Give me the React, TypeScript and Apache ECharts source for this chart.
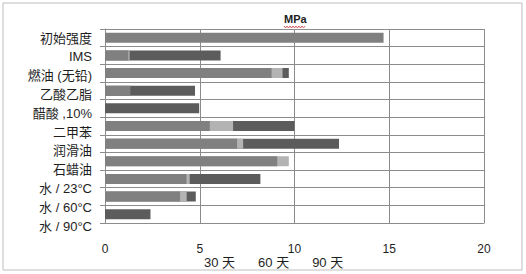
import React, { useEffect, useRef } from "react";
import * as echarts from "echarts";

// Immersion test: residual strength (MPa) after 30 / 60 / 90 days
const categories = [
  "初始强度",
  "IMS",
  "燃油 (无铅)",
  "乙酸乙脂",
  "醋酸 ,10%",
  "二甲苯",
  "润滑油",
  "石蜡油",
  "水 / 23°C",
  "水 / 60°C",
  "水 / 90°C",
];

const seriesNames = ["30 天", "60 天", "90 天"];

// Strength values per medium (null = not measured)
const days30 = [14.7, 1.23, 8.79, 1.34, null, 5.53, 6.97, 9.09, 4.3, 3.96, null];
const days60 = [null, 1.3, 9.37, null, null, 6.76, 7.29, 9.7, 4.47, 4.31, null];
const days90 = [null, 6.1, 9.7, 4.75, 4.97, 10.0, 12.35, null, 8.2, 4.79, 2.4];

const xTicks = { min: 0, max: 20, interval: 5 };

const colors = { d30: "#808080", d60: "#b3b3b3", d90: "#5c5c5c" };
const gridColor = "#8c8c8c";
const textColor = "#1e1e1e";
const numFont = "'Liberation Sans', Arial, sans-serif";
const cjkFont = "'Liberation Sans', 'Noto Sans CJK SC', sans-serif";

// small zig-zag under the unit label
const squiggle: number[][] = [];
for (let x = 284; x <= 306; x += 1.5) {
  squiggle.push([x, (Math.round((x - 284) / 1.5) % 2 === 0) ? 26 : 28]);
}

export default function App() {
  const ref = useRef<HTMLDivElement>(null);

  useEffect(() => {
    if (!ref.current) return;
    const chart = echarts.init(ref.current, undefined, { renderer: "svg" });
    const bar = (name: string, data: (number | null)[], color: string) => ({
      name,
      type: "bar",
      xAxisIndex: 0,
      yAxisIndex: 0,
      data,
      barWidth: 10,
      barGap: "-100%",
      itemStyle: { color },
      emphasis: { disabled: true },
    });
    chart.setOption({
      animation: false,
      title: {
        text: "MPa",
        left: 284,
        top: 13,
        padding: 0,
        textStyle: { fontSize: 11, fontWeight: "bold", color: textColor, fontFamily: numFont },
      },
      legend: {
        data: seriesNames,
        left: 199,
        top: 256,
        itemWidth: 0,
        itemHeight: 0,
        itemGap: 18,
        padding: 0,
        selectedMode: false,
        textStyle: { fontSize: 13, color: textColor, fontFamily: cjkFont },
      },
      grid: [
        { left: 105, top: 29, width: 379, height: 194 },
        { left: 105, top: 28.6, width: 379, height: 206.8 },
      ],
      xAxis: [
        {
          type: "value",
          gridIndex: 0,
          min: xTicks.min,
          max: xTicks.max,
          interval: xTicks.interval,
          axisLine: { show: true, lineStyle: { color: gridColor } },
          axisTick: { show: false },
          splitLine: { show: true, lineStyle: { color: gridColor, width: 1 } },
          axisLabel: { margin: 20, fontSize: 12, color: textColor, fontFamily: numFont },
        },
        { type: "value", gridIndex: 1, show: false, min: 0, max: 20 },
      ],
      yAxis: [
        {
          type: "category",
          gridIndex: 0,
          inverse: true,
          data: categories,
          axisLine: { show: true, lineStyle: { color: gridColor } },
          axisTick: { show: true, length: 5, lineStyle: { color: gridColor } },
          axisLabel: { show: false },
          splitLine: { show: true, lineStyle: { color: gridColor, width: 1 } },
        },
        {
          type: "category",
          gridIndex: 1,
          inverse: true,
          data: categories,
          axisLine: { show: false },
          axisTick: { show: false },
          splitLine: { show: false },
          axisLabel: { margin: 13, fontSize: 13, color: textColor, fontFamily: cjkFont },
        },
      ],
      series: [
        bar(seriesNames[2], days90, colors.d90),
        bar(seriesNames[1], days60, colors.d60),
        bar(seriesNames[0], days30, colors.d30),
      ],
      graphic: [
        {
          type: "rect",
          shape: { x: 3, y: 3, width: 519, height: 267 },
          style: { fill: "none", stroke: "#bdbdbd", lineWidth: 1 },
          silent: true,
        },
        {
          type: "polyline",
          shape: { points: squiggle },
          style: { fill: "none", stroke: "#d23c3c", lineWidth: 0.8 },
          silent: true,
        },
      ],
    });
    return () => chart.dispose();
  }, []);

  return (
    <div
      ref={ref}
      style={{ position: "fixed", left: 0, top: 0, width: 526, height: 274, background: "#fff" }}
    />
  );
}
